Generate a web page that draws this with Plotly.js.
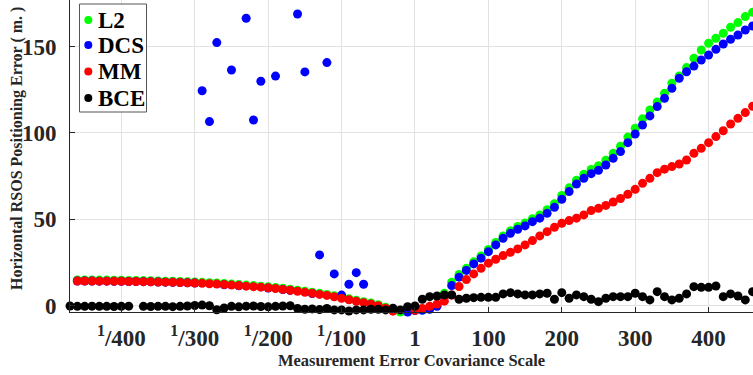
<!DOCTYPE html>
<html>
<head>
<meta charset="utf-8">
<script src="https://cdn.plot.ly/plotly-3.0.1.min.js"></script>
<style>html,body{margin:0;padding:0;background:#fff;}#chart{width:753px;height:375px;}</style>
</head>
<body>
<div id="chart"></div>
<script>
// x positions: negative k means covariance scale 1/k, 0 means 1, positive k means k
const xs = [-470,-460,-450,-440,-430,-420,-410,-400,-390,-380,-370,-360,-350,-340,-330,-320,-310,-300,-290,-280,-270,-260,-250,-240,-230,-220,-210,-200,-190,-180,-170,-160,-150,-140,-130,-120,-110,-100,-90,-80,-70,-60,-50,-40,-30,-20,-10,0,
  10,20,30,40,50,60,70,80,90,100,110,120,130,140,150,160,170,180,190,200,210,220,230,240,250,260,270,280,290,300,310,320,330,340,350,360,370,380,390,400,410,420,430,440,450,460];

const L2 = [null,14.8,14.8,14.8,14.7,14.7,14.6,14.6,14.5,14.5,14.4,14.3,14.2,14.1,14.0,13.9,13.7,13.6,13.4,13.2,13.0,12.7,12.4,12.1,11.8,11.5,11.2,10.8,10.4,9.9,9.4,8.8,8.2,7.6,7.0,6.4,5.6,4.8,3.9,3.0,2.2,1.4,0.4,-1.0,-2.7,-3.8,-3.6,-2.2,
  -2.0,-1.5,0.5,7.0,13.5,18.0,21.5,25.3,28.7,32.5,36.5,40.3,43.3,45.8,47.8,50.3,52.5,55.5,59.0,63.8,68.2,72.6,76.0,78.8,81.0,84.2,88.2,92.3,97.6,102.8,108.2,113.3,118.0,123.1,128.9,133.1,137.9,143.3,148.1,152.0,154.9,157.8,161.3,164.0,167.5,170.0];

const DCS = [null,14.2,14.2,14.2,14.1,14.1,14.0,14.0,13.9,13.9,13.8,13.7,13.6,13.5,13.4,13.3,13.1,13.0,124.5,106.6,152.4,12.0,136.5,11.4,166.5,107.5,130.0,10.1,133.0,9.2,8.7,169.0,135.4,6.9,29.3,140.8,18.3,6.0,12.3,19.0,12.3,0.5,-1.0,-4.5,-4.0,-4.2,-3.8,-3.0,
  -2.8,-2.2,-0.5,5.0,11.5,16.4,20.3,24.1,27.4,31.2,35.1,38.9,41.8,44.2,46.1,48.6,50.6,53.4,56.9,61.6,66.0,70.4,73.7,76.4,78.4,81.4,85.3,89.2,94.4,99.4,104.6,109.9,115.3,120.1,125.9,131.7,135.5,138.8,142.3,145.2,148.5,151.6,154.3,156.8,159.7,162.0];

const MM = [null,14.2,14.2,14.2,14.1,14.1,14.0,14.0,13.9,13.9,13.8,13.7,13.6,13.5,13.4,13.3,13.1,13.0,12.8,12.6,12.4,12.1,11.8,11.5,11.2,10.9,10.6,10.2,9.8,9.3,8.8,8.2,7.6,7.0,6.4,5.8,5.0,4.2,3.3,2.4,1.6,0.8,-0.2,-1.6,-3.3,-4.4,-4.2,-2.8,
  -1.8,-0.5,0.8,2.5,6.0,11.0,15.0,18.3,21.5,24.5,26.8,28.9,30.8,32.8,35.1,37.6,40.3,42.8,45.3,47.6,49.2,50.6,52.5,55.0,56.3,58.0,60.0,62.0,64.5,67.3,70.8,73.7,77.0,79.0,80.5,82.0,84.3,88.2,91.1,94.4,97.9,101.3,105.2,108.5,111.8,115.5];

const BCE = [-0.3,-0.5,-0.5,-0.4,-0.5,-0.5,-0.6,-0.5,-0.4,null,-0.5,-0.6,-0.5,-0.5,-0.7,-0.5,-0.3,0.0,0.2,-0.2,-2.5,-1.5,-0.5,-0.8,-0.4,-0.3,-0.6,-0.8,-0.5,-0.3,-0.2,-1.8,-2.2,-2.0,-2.4,-1.8,-2.6,-2.6,-3.2,-2.6,-2.6,-2.2,-2.2,-2.6,-1.6,-2.6,-0.7,-0.3,
  3.6,5.1,5.5,6.1,6.1,3.6,4.2,4.5,4.7,4.7,4.7,6.7,7.4,6.7,6.1,6.1,6.7,7.1,3.6,7.4,4.2,6.1,5.1,3.6,2.2,4.2,5.1,5.1,5.1,7.1,5.1,3.2,8.0,5.1,3.2,4.2,6.7,10.9,10.5,10.5,11.3,5.1,6.7,5.5,3.2,8.0];

const seriesNames = ['L2','DCS','MM','BCE'];
const seriesColors = ['#00ff00','#0000ff','#ff0000','#000000'];
const seriesData = [L2, DCS, MM, BCE];

const xTickVals = [-400,-300,-200,-100,0,100,200,300,400];
const xTickText = ['<sup>1</sup>/400','<sup>1</sup>/300','<sup>1</sup>/200','<sup>1</sup>/100','1','100','200','300','400'];
const yTickVals = [0,50,100,150];
const xTitle = 'Measurement Error Covariance Scale';
const yTitle = 'Horizontal RSOS Positioning Error ( m. )';

const traces = seriesNames.map((n,i)=>({
  type:'scatter', mode:'markers', name:n, x:xs, y:seriesData[i],
  marker:{color:seriesColors[i], size:9, line:{width:0}},
  cliponaxis:false, showlegend:false
}));

// custom legend (paper coords: plot area x 70..753, y 0..312 px)
const W = 683, H = 312;
const px2x = p => (p-70)/W;
const py2y = p => (312-p)/H;
const legendRows = [20, 45, 71.5, 98];
const shapes = [{type:'rect', xref:'paper', yref:'paper', x0:px2x(79.5), x1:px2x(146.5), y0:py2y(112), y1:py2y(4),
  line:{color:'#555555', width:1}, fillcolor:'rgba(255,255,255,1)', layer:'above'}];
const annotations = [];
seriesNames.forEach((n,i)=>{
  shapes.push({type:'circle', xref:'paper', yref:'paper', xsizemode:'pixel', ysizemode:'pixel',
    xanchor:px2x(88.3), yanchor:py2y(legendRows[i]), x0:-4, x1:4, y0:-4, y1:4,
    fillcolor:seriesColors[i], line:{width:0}, layer:'above'});
  annotations.push({xref:'paper', yref:'paper', x:px2x(95.5), y:py2y(legendRows[i]), xanchor:'left', yanchor:'middle',
    text:'<b>'+n+'</b>', showarrow:false, font:{family:'Liberation Serif', size:23, color:'#000000'}});
});
// y-axis title
annotations.push({xref:'paper', yref:'paper', x:px2x(17), y:py2y(149), xanchor:'center', yanchor:'middle',
  textangle:-90, text:'<b>'+yTitle+'</b>', showarrow:false,
  font:{family:'Liberation Serif', size:16, color:'#262626'}});

const layout = {
  width:753, height:375,
  margin:{l:70, r:0, t:0, b:63, pad:0},
  paper_bgcolor:'#ffffff', plot_bgcolor:'#ffffff',
  showlegend:false,
  font:{family:'Liberation Serif', color:'#262626'},
  xaxis:{range:[-470,460.5], tickmode:'array', tickvals:xTickVals, ticktext:xTickText.map(t=>'<b>'+t+'</b>'),
    showgrid:true, gridcolor:'#e2e2e2', gridwidth:1, zeroline:false,
    showline:true, linecolor:'#262626', linewidth:1, mirror:false,
    ticks:'inside', ticklen:5, tickcolor:'#262626', ticklabelstandoff:5,
    tickfont:{family:'Liberation Serif', size:23, color:'#262626'},
    title:{text:'<b>'+xTitle+'</b>', font:{family:'Liberation Serif', size:16.5, color:'#262626'}, standoff:3}},
  yaxis:{range:[-3.8,177.1], tickmode:'array', tickvals:yTickVals, ticktext:yTickVals.map(v=>'<b>'+v+'</b>'),
    showgrid:true, gridcolor:'#e2e2e2', gridwidth:1, zeroline:false,
    showline:true, linecolor:'#262626', linewidth:1,
    ticks:'inside', ticklen:5, tickcolor:'#262626', ticklabelstandoff:8,
    tickfont:{family:'Liberation Serif', size:23, color:'#262626'},
    title:{text:''}},
  shapes:shapes, annotations:annotations
};

Plotly.newPlot('chart', traces, layout, {staticPlot:true, displayModeBar:false});
</script>
</body>
</html>
